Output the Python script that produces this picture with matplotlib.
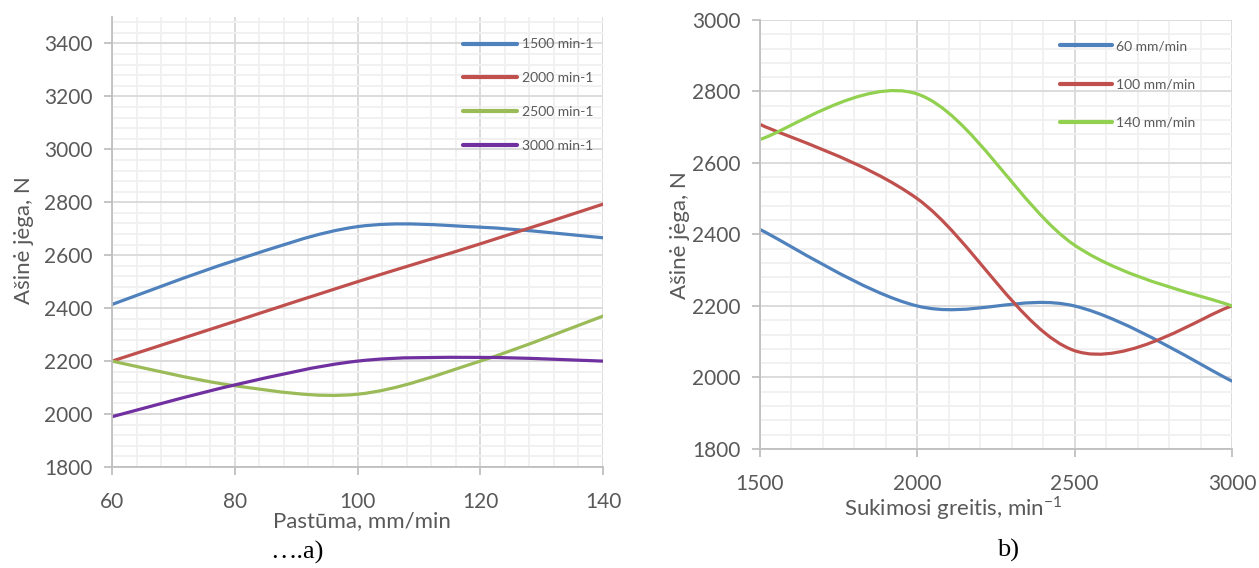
import numpy as np
import matplotlib
matplotlib.use('Agg')
import matplotlib.pyplot as plt
from matplotlib.path import Path
from matplotlib.patches import PathPatch
from matplotlib.lines import Line2D
from matplotlib.ticker import MultipleLocator

# --- data ---
feeds = [60, 80, 100, 120, 140]          # mm/min
speeds = [1500, 2000, 2500, 3000]        # min-1
force_1500 = [2414, 2580, 2708, 2706, 2666]
force_2000 = [2200, 2350, 2500, 2643, 2793]
force_2500 = [2200, 2107, 2075, 2200, 2370]
force_3000 = [1990, 2110, 2200, 2214, 2200]
speed_labels = ['1500 min-1', '2000 min-1', '2500 min-1', '3000 min-1']
speed_colors = ['#4F81BD', '#C0504D', '#9BBB59', '#7030A0']

feed_picks = [60, 100, 140]
feed_labels = ['60 mm/min', '100 mm/min', '140 mm/min']
feed_colors = ['#4F81BD', '#C0504D', '#92D050']

W, H = 1259, 568
GRID_MAJOR = '#d9d9d9'
GRID_MINOR = '#f0f0f0'
TEXT = '#595959'

plt.rcParams['font.family'] = ['Lato', 'DejaVu Sans']
plt.rcParams['mathtext.fontset'] = 'custom'
plt.rcParams['mathtext.rm'] = 'Lato'


def smooth_path(x, y):
    """Excel-like smoothed line: Catmull-Rom converted to cubic Bezier."""
    pts = np.column_stack([x, y]).astype(float)
    ext = np.vstack([pts[0], pts, pts[-1]])
    verts = [pts[0]]
    codes = [Path.MOVETO]
    for i in range(1, len(ext) - 2):
        p0, p1, p2, p3 = ext[i - 1], ext[i], ext[i + 1], ext[i + 2]
        verts += [p1 + (p2 - p0) / 6, p2 - (p3 - p1) / 6, p2]
        codes += [Path.CURVE4] * 3
    return Path(verts, codes)


def style_axes(ax, xmaj, xmin, ymaj, ymin):
    ax.xaxis.set_major_locator(MultipleLocator(xmaj))
    ax.xaxis.set_minor_locator(MultipleLocator(xmin))
    ax.yaxis.set_major_locator(MultipleLocator(ymaj))
    ax.yaxis.set_minor_locator(MultipleLocator(ymin))
    ax.grid(which='major', color=GRID_MAJOR, linewidth=1.3)
    ax.grid(which='minor', color=GRID_MINOR, linewidth=1.3)
    ax.set_axisbelow(True)
    for side in ['top', 'right']:
        ax.spines[side].set_visible(False)
    for side in ['left', 'bottom']:
        ax.spines[side].set_color('#bfbfbf')
        ax.spines[side].set_linewidth(1.3)
    ax.tick_params(which='major', length=6, width=1.3, color='#bfbfbf',
                   labelcolor=TEXT, labelsize=15)
    ax.tick_params(which='minor', length=0)
    ax.tick_params(axis='x', pad=12)
    ax.tick_params(axis='y', pad=8)


fig = plt.figure(figsize=(W / 100, H / 100), dpi=100)

# --- a) force vs feed ---
ax1 = fig.add_axes([112 / W, 1 - 467 / H, 491 / W, 450 / H])
handles = []
for vals, lab, col in zip([force_1500, force_2000, force_2500, force_3000],
                          speed_labels, speed_colors):
    ax1.add_patch(PathPatch(smooth_path(feeds, vals), fill=False,
                            edgecolor=col, linewidth=2.3, capstyle='round'))
    handles.append(Line2D([], [], color=col, linewidth=3, solid_capstyle='round', label=lab))
ax1.set_xlim(60, 140)
ax1.set_ylim(1800, 3500)
style_axes(ax1, 20, 4, 200, 40)
ax1.legend(handles=handles, loc='upper left', bbox_to_anchor=(0.69, 0.98),
           frameon=False, fontsize=10, labelcolor=TEXT, handlelength=3.9,
           handletextpad=0.3, labelspacing=1.57)

# --- b) force vs spindle speed ---
all_force = np.array([force_1500, force_2000, force_2500, force_3000])
ax2 = fig.add_axes([760 / W, 1 - 449 / H, 472 / W, 429 / H])
handles = []
for feed, lab, col in zip(feed_picks, feed_labels, feed_colors):
    vals = all_force[:, feeds.index(feed)]
    ax2.add_patch(PathPatch(smooth_path(speeds, vals), fill=False,
                            edgecolor=col, linewidth=2.3, capstyle='round'))
    handles.append(Line2D([], [], color=col, linewidth=3, solid_capstyle='round', label=lab))
ax2.set_xlim(1500, 3000)
ax2.set_ylim(1800, 3000)
style_axes(ax2, 500, 100, 200, 40)
ax2.legend(handles=handles, loc='upper left', bbox_to_anchor=(0.61, 0.982),
           frameon=False, fontsize=10, labelcolor=TEXT, handlelength=3.7,
           handletextpad=0.3, labelspacing=1.9)

# --- axis titles and captions ---
fig.text(24 / W, 1 - 240 / H, 'Ašinė jėga, N', rotation=90, ha='center',
         va='center', fontsize=16, color=TEXT)
fig.text(680 / W, 1 - 235 / H, 'Ašinė jėga, N', rotation=90, ha='center',
         va='center', fontsize=16, color=TEXT)
fig.text(362 / W, 1 - 521 / H, 'Pastūma, mm/min', ha='center', va='center',
         fontsize=16, color=TEXT)
fig.text(953 / W, 1 - 508 / H, r'Sukimosi greitis, min$^{\mathregular{-1}}$',
         ha='center', va='center', fontsize=16, color=TEXT)
fig.text(297 / W, 1 - 552 / H, '….a)', ha='center', va='center',
         fontsize=19, family='Liberation Serif', color='black')
fig.text(1008 / W, 1 - 550 / H, 'b)', ha='center', va='center',
         fontsize=19, family='Liberation Serif', color='black')

fig.savefig('out.png', dpi=100)
